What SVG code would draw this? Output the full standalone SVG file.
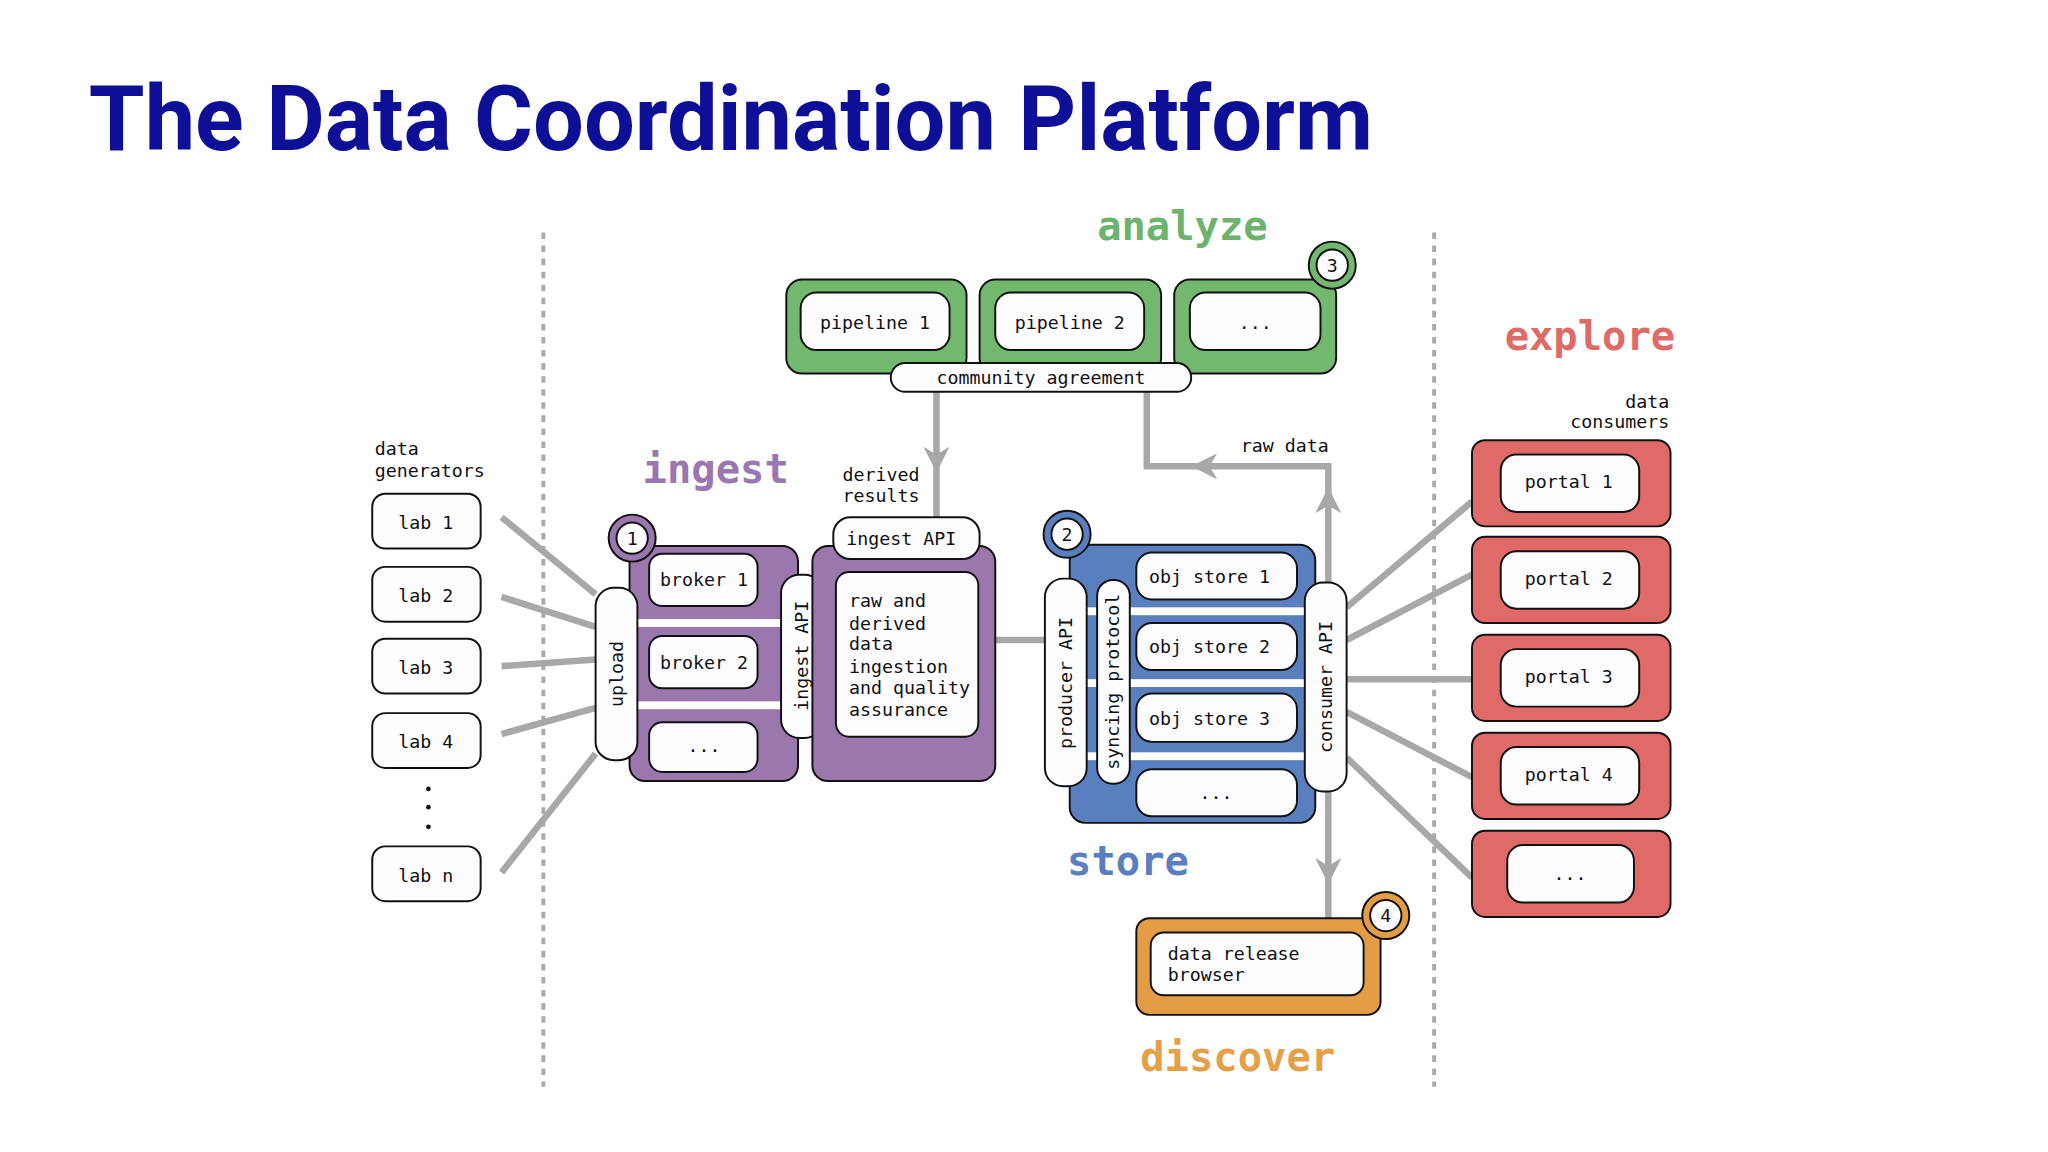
<svg xmlns="http://www.w3.org/2000/svg" width="2048" height="1152" viewBox="0 0 2048 1152">
<style>
.t{font-family:"DejaVu Sans Mono",monospace;font-size:14px;fill:#111}
.c{text-anchor:middle}
.w{fill:#fdfcff;stroke:#111;stroke-width:1.5}
.ln{stroke:#a8a8aa;stroke-width:5;fill:none}
.sec{font-family:"DejaVu Sans Mono",monospace;font-size:31px;font-weight:bold}
.dot{stroke:#aaa;stroke-width:3;stroke-dasharray:5 5}
.pu{fill:#9a77ad;stroke:#111;stroke-width:1.5}
.gr{fill:#72b86f;stroke:#111;stroke-width:1.5}
.bl{fill:#5a7fbf;stroke:#111;stroke-width:1.5}
.rd{fill:#e06a68;stroke:#111;stroke-width:1.5}
.or{fill:#e59d45;stroke:#111;stroke-width:1.5}
</style>
<defs>
<marker id="ah" viewBox="0 0 10 10" refX="5" refY="5" markerWidth="4" markerHeight="4" orient="auto" markerUnits="strokeWidth"><path d="M0,0 L10,5 L0,10 L3,5 Z" fill="#a8a8aa"/></marker>
</defs>
<rect width="2048" height="1152" fill="#fff"/>
<g transform="scale(1.30612)">
<text x="68" y="115" font-family="Roboto,'Liberation Sans',sans-serif" font-weight="bold" font-size="69" fill="#0d0f96">The Data Coordination Platform</text>
<line class="dot" x1="416" y1="178" x2="416" y2="832"/>
<line class="dot" x1="1098" y1="178" x2="1098" y2="832"/>
<text class="sec" x="492" y="370" fill="#9a77b0">ingest</text>
<text class="sec" x="840" y="184" fill="#6db36d">analyze</text>
<text class="sec" x="1152" y="268" fill="#e06a68">explore</text>
<text class="sec" x="817" y="670" fill="#5a7ec0">store</text>
<text class="sec" x="873" y="820" fill="#e5a04a">discover</text>
<text class="t" x="287" y="348">data</text><text class="t" x="287" y="365">generators</text>
<text class="t" x="645" y="368">derived</text><text class="t" x="645" y="384">results</text>
<text class="t" x="950" y="346">raw data</text>
<text class="t" x="1278" y="312" text-anchor="end">data</text><text class="t" x="1278" y="328" text-anchor="end">consumers</text>
<g id="connectors">
<line class="ln" x1="384" y1="396" x2="456" y2="455"/>
<line class="ln" x1="384" y1="457" x2="456" y2="480"/>
<line class="ln" x1="384" y1="510" x2="456" y2="505"/>
<line class="ln" x1="384" y1="562" x2="456" y2="542"/>
<line class="ln" x1="384" y1="668" x2="456" y2="577"/>
<path class="ln" d="M717,300 V352" marker-end="url(#ah)"/><path class="ln" d="M717,350 V396"/>
<line class="ln" x1="762" y1="490" x2="800" y2="490"/>
<path class="ln" d="M1017,447 V383" marker-end="url(#ah)"/><path class="ln" d="M1017,385 V357 H922" marker-end="url(#ah)"/><path class="ln" d="M925,357 H878 V300"/>
<path class="ln" d="M1017,606 V667" marker-end="url(#ah)"/><path class="ln" d="M1017,665 V703"/>
<line class="ln" x1="1031" y1="465" x2="1127" y2="384"/>
<line class="ln" x1="1031" y1="490" x2="1127" y2="440"/>
<line class="ln" x1="1031" y1="520" x2="1127" y2="520"/>
<line class="ln" x1="1031" y1="545" x2="1127" y2="595"/>
<line class="ln" x1="1031" y1="580" x2="1127" y2="672"/>
</g>
<g id="labs">
<rect class="w" x="285" y="378" width="83" height="42" rx="10"/><text class="t c" x="326" y="405">lab 1</text>
<rect class="w" x="285" y="434" width="83" height="42" rx="10"/><text class="t c" x="326" y="461">lab 2</text>
<rect class="w" x="285" y="489" width="83" height="42" rx="10"/><text class="t c" x="326" y="516">lab 3</text>
<rect class="w" x="285" y="546" width="83" height="42" rx="10"/><text class="t c" x="326" y="573">lab 4</text>
<rect class="w" x="285" y="648" width="83" height="42" rx="10"/><text class="t c" x="326" y="675">lab n</text>
<circle cx="328" cy="604" r="1.8" fill="#111"/><circle cx="328" cy="618" r="1.8" fill="#111"/><circle cx="328" cy="633" r="1.8" fill="#111"/>
</g>
<g id="ingest">
<rect class="pu" x="482" y="418" width="129" height="180" rx="12"/>
<rect x="488" y="474" width="112" height="6" fill="#fff"/>
<rect x="488" y="537" width="112" height="6" fill="#fff"/>
<rect class="w" x="497" y="424" width="83" height="40" rx="10"/><text class="t c" x="539" y="449">broker 1</text>
<rect class="w" x="497" y="487" width="83" height="40" rx="10"/><text class="t c" x="539" y="512">broker 2</text>
<rect class="w" x="497" y="553" width="83" height="38" rx="10"/><text class="t c" x="539" y="576">...</text>
<rect class="w" x="456" y="450" width="32" height="132" rx="14"/><text class="t c" transform="translate(477,516) rotate(-90)">upload</text>
<rect class="w" x="598" y="440" width="32" height="125" rx="14"/><text class="t c" transform="translate(619,502) rotate(-90)">ingest API</text>
<circle cx="484" cy="412" r="18" fill="#9a77ad" stroke="#111" stroke-width="1.5"/><circle cx="484" cy="412" r="12" class="w"/><text class="t c" x="484" y="417">1</text>
<rect class="pu" x="622" y="418" width="140" height="180" rx="12"/>
<rect class="w" x="640" y="438" width="109" height="126" rx="10"/>
<text class="t" x="650" y="465">raw and</text><text class="t" x="650" y="482">derived</text><text class="t" x="650" y="498">data</text><text class="t" x="650" y="515">ingestion</text><text class="t" x="650" y="531">and quality</text><text class="t" x="650" y="548">assurance</text>
<rect class="w" x="638" y="396" width="112" height="32" rx="13"/><text class="t c" x="690" y="417">ingest API</text>
</g>
<g id="analyze">
<rect class="gr" x="602" y="214" width="138" height="72" rx="12"/>
<rect class="gr" x="750" y="214" width="139" height="72" rx="12"/>
<rect class="gr" x="899" y="214" width="124" height="72" rx="12"/>
<rect class="w" x="613" y="224" width="114" height="44" rx="12"/><text class="t c" x="670" y="252">pipeline 1</text>
<rect class="w" x="762" y="224" width="114" height="44" rx="12"/><text class="t c" x="819" y="252">pipeline 2</text>
<rect class="w" x="911" y="224" width="100" height="44" rx="12"/><text class="t c" x="961" y="252">...</text>
<rect class="w" x="682" y="278" width="230" height="22" rx="11"/><text class="t c" x="797" y="294">community agreement</text>
<circle cx="1020" cy="203" r="18" fill="#72b86f" stroke="#111" stroke-width="1.5"/><circle cx="1020" cy="203" r="12" class="w"/><text class="t c" x="1020" y="208">3</text>
</g>
<g id="store">
<rect class="bl" x="819" y="417" width="188" height="213" rx="12"/>
<rect x="832" y="465" width="167" height="6" fill="#fff"/>
<rect x="832" y="520" width="167" height="6" fill="#fff"/>
<rect x="832" y="576" width="167" height="6" fill="#fff"/>
<rect class="w" x="870" y="423" width="123" height="36" rx="12"/><text class="t c" x="926" y="446">obj store 1</text>
<rect class="w" x="870" y="477" width="123" height="36" rx="12"/><text class="t c" x="926" y="500">obj store 2</text>
<rect class="w" x="870" y="531" width="123" height="37" rx="12"/><text class="t c" x="926" y="555">obj store 3</text>
<rect class="w" x="870" y="589" width="123" height="36" rx="12"/><text class="t c" x="931" y="612">...</text>
<rect class="w" x="800" y="443" width="32" height="159" rx="14"/><text class="t c" transform="translate(821,523) rotate(-90)">producer API</text>
<rect class="w" x="840" y="444" width="25" height="156" rx="12"/><text class="t c" transform="translate(857,522) rotate(-90)">syncing protocol</text>
<rect class="w" x="999" y="446" width="32" height="160" rx="14"/><text class="t c" transform="translate(1020,526) rotate(-90)">consumer API</text>
<circle cx="817" cy="409" r="18" fill="#5a7fbf" stroke="#111" stroke-width="1.5"/><circle cx="817" cy="409" r="12" class="w"/><text class="t c" x="817" y="414">2</text>
</g>
<g id="explore">
<rect class="rd" x="1127" y="337" width="152" height="66" rx="10"/><rect class="w" x="1149" y="348" width="106" height="44" rx="12"/><text class="t c" x="1201" y="374">portal 1</text>
<rect class="rd" x="1127" y="411" width="152" height="66" rx="10"/><rect class="w" x="1149" y="422" width="106" height="44" rx="12"/><text class="t c" x="1201" y="448">portal 2</text>
<rect class="rd" x="1127" y="486" width="152" height="66" rx="10"/><rect class="w" x="1149" y="497" width="106" height="44" rx="12"/><text class="t c" x="1201" y="523">portal 3</text>
<rect class="rd" x="1127" y="561" width="152" height="66" rx="10"/><rect class="w" x="1149" y="572" width="106" height="44" rx="12"/><text class="t c" x="1201" y="598">portal 4</text>
<rect class="rd" x="1127" y="636" width="152" height="66" rx="10"/><rect class="w" x="1154" y="647" width="97" height="44" rx="12"/><text class="t c" x="1202" y="674">...</text>
</g>
<g id="discover">
<rect class="or" x="870" y="703" width="187" height="74" rx="10"/>
<rect class="w" x="881" y="714" width="163" height="48" rx="10"/>
<text class="t" x="894" y="735">data release</text><text class="t" x="894" y="751">browser</text>
<circle cx="1061" cy="701" r="18" fill="#e59d45" stroke="#111" stroke-width="1.5"/><circle cx="1061" cy="701" r="12" class="w"/><text class="t c" x="1061" y="706">4</text>
</g>
</g>
</svg>
